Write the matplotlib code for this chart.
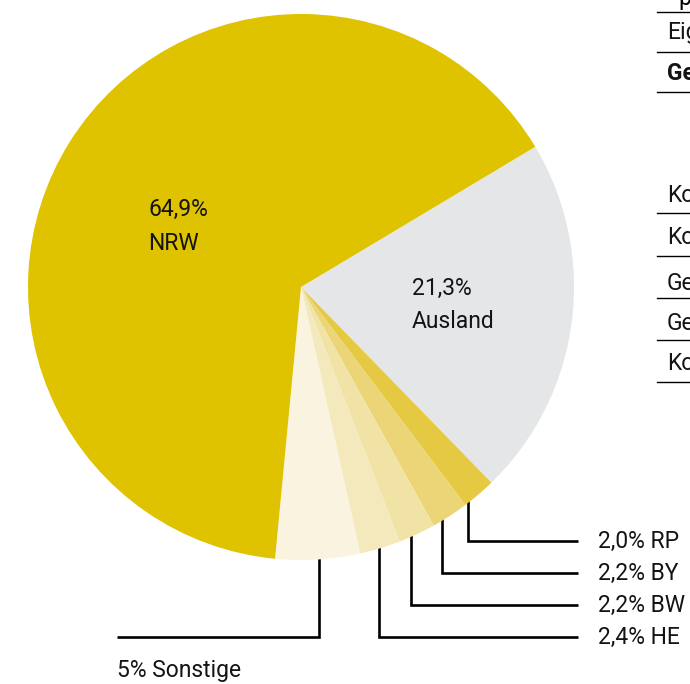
import numpy as np
import matplotlib.pyplot as plt

plt.rcParams['font.family'] = ['Roboto', 'DejaVu Sans']

# Anteile in Prozent (im Uhrzeigersinn ab Ausland)
regionen = ['Ausland', 'RP', 'BY', 'BW', 'HE', 'Sonstige', 'NRW']
anteile = [21.3, 2.0, 2.2, 2.2, 2.4, 5.0, 64.9]
beschriftung = ['21,3%', '2,0%', '2,2%', '2,2%', '2,4%', '5%', '64,9%']
farben = ['#e5e6e8', '#e5c942', '#ebd577', '#f1e3a5', '#f4e9bd', '#f9f3df', '#dfc200']

# Tabellenreste am rechten Rand
tabelle_text = ['Eig', 'Ge', 'Ko', 'Ko', 'Ge', 'Ge', 'Ko']
tabelle_fett = [False, True, False, False, False, False, False]

W, H = 690, 684
CX, CY, R = 301, 287, 273
FS = 16.5
TXT = '#141414'


def Y(y):
    return H - y


def rand_y(x):
    # unterer Kreisrand an Position x (Pixel von oben)
    return CY + np.sqrt(R ** 2 - (x - CX) ** 2) - 4


fig = plt.figure(figsize=(W / 100, H / 100), dpi=100)
ax = fig.add_axes([0, 0, 1, 1])

ax.pie(anteile, colors=farben, startangle=30.9, counterclock=False,
       center=(CX, Y(CY)), radius=R, wedgeprops={'linewidth': 0})

# Beschriftungen im Kreis
ax.text(148, Y(209), beschriftung[6], fontsize=FS, va='center', ha='left', color=TXT)
ax.text(148, Y(243), regionen[6], fontsize=FS, va='center', ha='left', color=TXT)
ax.text(412, Y(288), beschriftung[0], fontsize=FS, va='center', ha='left', color=TXT)
ax.text(412, Y(322), regionen[0], fontsize=FS, va='center', ha='left', color=TXT)

# Führungslinien rechts (RP, BY, BW, HE)
linien_x = [468, 442, 411, 379]
linien_y = [541, 573, 605, 637]
for i, (lx, ly) in enumerate(zip(linien_x, linien_y)):
    ax.plot([lx, lx, 578], [Y(rand_y(lx)), Y(ly), Y(ly)], color='black', lw=1.9,
            zorder=0, solid_joinstyle='miter', solid_capstyle='butt')
    ax.text(598, Y(ly), beschriftung[i + 1] + ' ' + regionen[i + 1],
            fontsize=FS, va='center', ha='left', color=TXT)

# Sonstige
ax.plot([319, 319, 117], [Y(rand_y(319)), Y(637), Y(637)], color='black', lw=1.9,
        zorder=0, solid_joinstyle='miter', solid_capstyle='butt')
ax.text(117, Y(670), beschriftung[5] + ' ' + regionen[5], fontsize=FS,
        va='center', ha='left', color=TXT)

# Tabelle rechts (abgeschnitten)
tab_y = [33, 73, 195, 238, 283, 323, 363]
regeln_y = [12, 52, 92, 213, 256, 298, 340, 382]
for t, f, ty in zip(tabelle_text, tabelle_fett, tab_y):
    ax.text(667, Y(ty), t, fontsize=FS, va='center', ha='left', color=TXT,
            fontweight='bold' if f else 'normal', clip_on=True)
for ry in regeln_y:
    ax.plot([657, W], [Y(ry), Y(ry)], color='black', lw=1.0)
ax.text(678, Y(-2), 'p', fontsize=FS, va='center', ha='left', clip_on=True)

ax.set_xlim(0, W)
ax.set_ylim(0, H)
ax.set_aspect('auto')
ax.axis('off')

fig.savefig('out.png', dpi=100)
